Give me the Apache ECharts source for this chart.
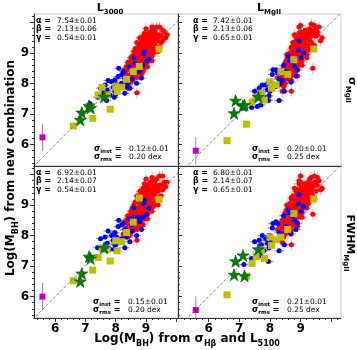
<!DOCTYPE html>
<html><head><meta charset="utf-8">
<script src="https://cdn.jsdelivr.net/npm/echarts@6/dist/echarts.min.js"></script>
<style>html,body{margin:0;padding:0;background:#fff}#c{width:357px;height:350px}</style>
</head><body><div id="c"></div>
<script>
// ---------------- DATA ----------------
const redX = [8.90,8.75,9.05,8.60,9.20,8.85,8.95,8.70,9.10,8.50, 9.30,8.80,9.00,8.65,9.15,8.40,8.95,9.25,8.55,8.85, 9.40,8.70,9.05,8.80,8.45,9.10,8.65,9.00,8.90,9.35, 8.30,8.95,8.75,9.20,8.60,8.85,9.10,8.50,9.50,8.80, 9.00,8.70,8.95,9.15,8.40,9.25,8.60,8.90,9.05,8.75, 9.35,8.55,8.85,9.10,8.65,9.00,8.80,9.20,8.45,8.95, 9.30,8.70,9.45,8.35,8.90,9.15,8.60,9.05,8.85,9.60, 8.50,9.00,8.75,9.25,8.40,8.95,8.65,9.10,8.80,9.40, 8.70,9.55,8.85,9.20,8.55,9.00,8.25,9.65,8.90,9.30,
  8.60,9.00,8.80,9.20,8.50,9.10,8.70,9.30,8.90,8.45, 9.45,8.65,8.95,9.15,8.75,9.05,8.35,9.25,8.85,8.55, 9.35,8.80,9.00,8.60,9.20,8.70,9.50,8.90,9.10,8.40, 9.30,8.75,9.05,8.95,8.50,9.40,8.65,9.25,8.85,9.00, 8.30,9.15,8.70,9.55,8.80,8.95,8.60,9.20,8.45,9.10, 8.85,9.35,8.55,9.00,8.75,9.70,8.90,9.45,8.65,9.05];
const redY_L3000_sig = [8.95,8.70,9.10,8.55,9.30,8.60,9.20,8.90,8.95,8.30, 9.45,8.80,8.85,8.75,9.25,8.20,9.05,9.10,8.65,9.10, 9.50,8.45,9.30,9.00,8.50,9.20,8.40,8.70,8.75,9.20, 8.05,9.35,8.95,9.45,8.80,8.45,9.05,8.60,9.35,8.65, 9.15,8.60,8.90,9.40,8.45,9.00,8.35,9.15,8.80,8.85, 9.55,8.35,8.95,9.35,8.95,9.00,8.50,9.20,8.25,8.65, 9.30,8.75,9.60,8.30,9.00,9.10,8.70,9.15,8.85,9.70, 8.15,9.25,8.55,9.55,7.85,8.50,8.55,8.85,9.15,9.05, 7.70,9.75,9.25,8.90,8.90,9.45,8.00,9.50,8.40,9.65,
  8.90,8.60,9.30,9.65,8.75,9.55,9.10,9.05,9.55,8.65, 9.85,8.25,9.45,9.70,8.35,8.70,8.55,9.35,9.40,8.10, 9.85,8.35,9.60,9.05,8.75,8.20,9.55,9.25,9.65,8.70, 9.75,9.20,8.55,9.65,8.85,9.40,9.15,9.80,8.30,9.35, 8.45,8.95,9.35,9.40,9.50,9.10,8.45,9.85,8.00,9.40, 8.70,9.60,8.55,9.80,9.05,9.60,8.85,9.20,8.65,9.50];
const redY_MgII_sig = [9.00,8.55,9.30,8.40,9.45,8.70,9.15,8.80,9.05,8.20, 9.60,8.90,8.80,8.50,9.40,8.05,9.20,9.25,8.45,9.10, 9.70,8.35,9.50,8.95,8.30,9.10,8.60,8.90,8.65,9.35, 7.95,9.30,9.05,9.55,8.65,8.50,9.20,8.55,9.55,8.75, 9.35,8.25,8.95,9.30,8.25,9.15,8.15,9.40,9.05,8.65, 9.75,8.35,8.85,9.45,8.75,9.10,8.60,9.50,8.10,8.75, 9.40,8.95,9.65,8.10,9.25,9.00,8.85,9.20,9.05,9.85, 8.00,9.40,8.45,9.65,7.75,8.60,8.70,8.95,9.25,8.50, 7.75,9.60,9.10,8.95,8.95,9.55,8.20,9.40,8.25,9.80,
  8.70,8.65,9.35,9.70,8.60,9.60,9.20,9.10,9.45,8.55, 9.90,8.30,9.65,9.75,8.40,8.75,8.35,9.20,9.50,8.30, 9.95,8.50,9.70,8.95,8.85,8.10,9.80,9.30,9.50,8.45, 9.60,8.90,8.60,9.85,8.70,9.25,9.00,9.70,8.40,9.45, 8.40,9.10,9.15,9.70,9.60,9.00,8.55,9.55,7.90,9.40, 8.75,9.55,8.80,9.90,9.35,9.50,9.15,9.25,8.40,9.35];
const redY_L3000_fwhm = [8.92,8.65,9.15,8.50,9.25,8.55,9.10,8.85,8.90,8.25, 9.40,8.75,8.80,8.70,9.30,8.15,9.00,9.05,8.60,9.05, 9.45,8.40,9.35,8.95,8.45,9.20,8.35,8.65,8.70,9.15, 8.00,9.30,8.90,9.50,8.75,8.40,9.00,8.55,9.30,8.60, 9.20,8.55,8.85,9.45,8.40,8.95,8.30,9.15,8.75,8.80, 9.60,8.30,8.90,9.35,8.90,8.95,8.45,9.25,8.20,8.60, 9.35,8.75,9.65,8.25,9.00,9.10,8.65,9.10,8.80,9.75, 8.10,9.30,8.50,9.55,7.95,8.55,8.50,8.85,9.15,9.00, 7.85,9.95,9.25,8.95,8.90,9.45,8.05,9.60,8.35,9.70,
  8.85,8.55,9.30,9.70,8.70,9.55,9.10,9.10,9.55,8.60, 9.95,8.25,9.50,9.75,8.30,8.70,8.50,9.40,9.40,8.15, 9.85,8.40,9.65,9.00,8.80,8.20,9.65,9.30,9.70,8.65, 9.80,9.20,8.55,9.70,8.80,9.50,9.10,9.85,8.35,9.40, 8.45,9.00,9.30,9.50,9.45,9.05,8.45,9.90,8.00,9.45, 8.65,9.60,8.50,9.85,9.10,9.75,8.85,9.25,8.60,9.55];
const redY_MgII_fwhm = [9.05,8.60,9.35,8.35,9.50,8.75,9.20,8.85,9.10,8.15, 9.55,8.80,8.85,8.55,9.30,8.00,9.15,9.20,8.50,9.00, 9.60,8.40,9.40,9.00,8.35,9.25,8.65,8.90,8.70,9.40, 7.90,9.35,8.95,9.50,8.70,8.45,9.15,8.45,9.45,8.65, 9.30,8.30,8.95,9.30,8.25,9.05,8.10,9.45,9.00,8.60, 9.70,8.30,8.90,9.45,8.80,9.10,8.55,9.40,8.05,8.80, 9.35,8.90,9.75,8.10,9.20,9.05,8.80,9.25,8.95,9.80, 8.05,9.35,8.50,9.60,7.80,8.60,8.70,8.90,9.15,8.70, 7.70,9.90,9.20,9.00,9.00,9.55,8.20,9.50,8.30,9.85,
  8.75,8.70,9.30,9.65,8.55,9.65,9.20,9.15,9.50,8.65, 9.95,8.35,9.70,9.70,8.35,8.75,8.40,9.30,9.45,8.25, 9.90,8.40,9.75,8.90,8.90,8.15,9.75,9.35,9.55,8.50, 9.70,9.00,8.60,9.80,8.75,9.30,9.05,9.75,8.45,9.40, 8.35,9.20,9.25,9.65,9.55,9.05,8.50,9.60,7.95,9.35, 8.80,9.50,8.85,9.95,9.30,9.55,9.10,9.20,8.45,9.45];

const blueX = [8.93,9.02,8.63,8.80,8.52,8.30,8.08,7.97,7.86,8.03, 8.19,7.92,7.72,7.59,7.97,7.81,8.30,8.47,8.69,8.85, 8.45,8.25,7.75,7.50,8.95,8.60,8.40,7.95,7.70,7.15, 8.10,8.75,8.55,9.10,8.00,8.35,7.65,8.20,7.40,8.90];
const blueY_L3000_sig = [8.97,8.75,8.67,8.39,8.32,8.18,8.23,8.12,8.06,7.96, 8.01,7.88,7.79,7.70,7.74,7.63,7.68,7.85,8.01,8.18, 8.55,8.40,8.10,7.85,9.05,8.85,8.00,7.55,7.45,7.35, 8.50,8.60,8.15,8.80,7.65,7.90,7.95,8.30,7.55,8.60];
const blueY_MgII_sig = [9.10,8.85,8.75,8.55,8.40,8.15,8.30,8.05,7.95,7.85, 7.90,7.80,7.70,7.25,7.60,7.55,7.45,7.75,8.05,8.25, 8.60,8.35,7.95,7.75,9.40,8.90,8.10,7.45,7.30,7.20, 8.45,8.70,8.25,9.00,7.75,8.00,7.85,8.45,7.22,8.45];
const blueY_L3000_fwhm = [9.05,8.70,8.60,8.45,8.35,8.20,8.30,8.10,8.00,7.95, 7.90,7.85,7.75,7.62,7.70,7.55,7.60,7.80,8.00,8.20, 8.55,8.40,8.15,7.90,9.15,8.90,8.05,7.55,7.50,7.30, 8.50,8.60,8.15,8.90,7.70,7.95,7.95,8.35,7.60,8.60];
const blueY_MgII_fwhm = [9.05,8.80,8.75,8.50,8.30,8.10,8.25,8.00,7.90,7.80, 7.85,7.75,7.70,7.30,7.60,7.50,7.50,7.70,8.05,8.20, 8.65,8.40,8.00,7.80,9.35,8.85,8.05,7.15,7.35,7.05, 8.40,8.65,8.20,8.95,7.70,7.95,7.85,8.45,7.25,8.40];

const yellowX = [6.60,7.24,7.82,7.42,7.72,8.05,8.00,8.20,8.36,8.58,8.78,9.43,7.55];
const yellowY_L3000_sig = [6.61,6.86,7.16,7.63,7.63,7.74,7.90,7.88,8.14,8.39,8.56,9.13,7.88];
const yellowY_MgII_sig = [6.13,6.67,7.46,7.40,7.68,7.85,8.06,7.96,8.39,8.30,8.78,9.13,7.55];
const yellowY_L3000_fwhm = [6.52,6.87,7.17,7.28,7.55,7.50,7.83,7.80,8.10,8.44,9.23,9.18,7.60];
const yellowY_MgII_fwhm = [6.06,6.67,7.25,7.09,7.53,7.68,7.95,7.86,7.95,8.20,8.72,9.20,7.31];

const greenX = [6.83,6.88,7.12,7.17,7.62];
const greenY_L3000_sig = [6.81,7.05,7.27,7.20,7.57];
const greenY_MgII_sig = [7.03,7.44,7.27,7.30,7.57];
const greenY_L3000_fwhm = [6.50,6.76,7.31,7.25,7.60];
const greenY_MgII_fwhm = [6.72,7.16,7.35,6.68,7.55];

const magentaX = [5.58];
const magentaY_L3000_sig = [6.24];
const magentaY_MgII_sig = [5.80];
const magentaY_L3000_fwhm = [6.00];
const magentaY_MgII_fwhm = [5.56];

// typical error bars (dex)
const redErr = [0.13, 0.18];
const blueErr = [0.15, 0.08];
const yellowErr = [0.15, 0.08];
const greenErr = [0.05, 0.05];
const magentaErr = [0.0, 0.45];

const oneToOne = [5.0, 10.5];
const majorTicks = [6, 7, 8, 9, 10];
const tickLabels = [6, 7, 8, 9];
const minorTicks = [5.2,5.4,5.6,5.8,6.2,6.4,6.6,6.8,7.2,7.4,7.6,7.8,8.2,8.4,8.6,8.8,9.2,9.4,9.6,9.8,10.2];

const colTitles = ['3000', 'MgII'];
const rowTitles = [['σ', 'MgII'], ['FWHM', 'MgII']];
const statAlpha = ['7.54±0.01', '7.42±0.01', '6.92±0.01', '6.80±0.01'];
const statBeta  = ['2.13±0.06', '2.13±0.06', '2.14±0.07', '2.14±0.07'];
const statGamma = ['0.54±0.01', '0.65±0.01', '0.54±0.01', '0.65±0.01'];
const statInst  = ['0.12±0.01', '0.20±0.01', '0.15±0.01', '0.21±0.01'];
const statRms   = ['0.20 dex', '0.25 dex', '0.20 dex', '0.25 dex'];

// ---------------- LAYOUT ----------------
const FF = 'DejaVu Sans';
const grids = [
  {left: 34, top: 14, width: 144, height: 152},
  {left: 178, top: 14, width: 163, height: 152},
  {left: 34, top: 166, width: 144, height: 152},
  {left: 178, top: 166, width: 163, height: 152}
];
const xRanges = [[5.3, 10.06], [5.0, 10.32], [5.3, 10.06], [5.0, 10.32]];
const yRange = [5.3, 10.28];

const panelData = [
  [redY_L3000_sig, blueY_L3000_sig, yellowY_L3000_sig, greenY_L3000_sig, magentaY_L3000_sig],
  [redY_MgII_sig, blueY_MgII_sig, yellowY_MgII_sig, greenY_MgII_sig, magentaY_MgII_sig],
  [redY_L3000_fwhm, blueY_L3000_fwhm, yellowY_L3000_fwhm, greenY_L3000_fwhm, magentaY_L3000_fwhm],
  [redY_MgII_fwhm, blueY_MgII_fwhm, yellowY_MgII_fwhm, greenY_MgII_fwhm, magentaY_MgII_fwhm]
];

const STAR = 'path://M12,1 L14.9,8.9 L23.4,8.9 L16.5,13.8 L19.1,21.9 L12,17 L4.9,21.9 L7.5,13.8 L0.6,8.9 L9.1,8.9 Z';

function pts(xs, ys, err) { return xs.map((x, i) => [x, ys[i], err[0], err[1]]); }

function errItem(params, api) {
  const x = api.value(0), y = api.value(1), ex = api.value(2), ey = api.value(3);
  const col = api.visual('color');
  const ch = [];
  if (ex > 0) {
    const a = api.coord([x - ex, y]), b = api.coord([x + ex, y]);
    ch.push({type: 'line', shape: {x1: a[0], y1: a[1], x2: b[0], y2: b[1]}, style: {stroke: col, lineWidth: 1}});
  }
  if (ey > 0) {
    const c = api.coord([x, y - ey]), d = api.coord([x, y + ey]);
    ch.push({type: 'line', shape: {x1: c[0], y1: c[1], x2: d[0], y2: d[1]}, style: {stroke: col, lineWidth: 1}});
  }
  return {type: 'group', children: ch};
}

const xAxis = [], yAxis = [], series = [];
grids.forEach((g, i) => {
  const bottomRow = i >= 2, leftCol = (i % 2 === 0);
  const axLine = {show: true, lineStyle: {color: '#333', width: 1}};
  xAxis.push({
    gridIndex: i, type: 'value', min: xRanges[i][0], max: xRanges[i][1], position: 'bottom',
    axisLine: axLine, splitLine: {show: false},
    axisTick: {show: bottomRow, inside: false, length: 4, customValues: majorTicks, lineStyle: {color: '#333'}},
    axisLabel: {show: bottomRow, customValues: tickLabels, color: '#000', fontFamily: FF, fontWeight: 'bold', fontSize: 12, margin: 5}
  });
  xAxis.push({
    gridIndex: i, type: 'value', min: xRanges[i][0], max: xRanges[i][1], position: 'bottom',
    axisLine: {show: false}, splitLine: {show: false},
    axisTick: {show: bottomRow, inside: false, length: 2, customValues: minorTicks, lineStyle: {color: '#333'}},
    axisLabel: {show: false}
  });
  yAxis.push({
    gridIndex: i, type: 'value', min: yRange[0], max: yRange[1], position: 'left',
    axisLine: axLine, splitLine: {show: false},
    axisTick: {show: true, inside: !leftCol, length: 4, customValues: majorTicks, lineStyle: {color: '#333'}},
    axisLabel: {show: leftCol, customValues: tickLabels, color: '#000', fontFamily: FF, fontWeight: 'bold', fontSize: 12, margin: 5}
  });
  yAxis.push({
    gridIndex: i, type: 'value', min: yRange[0], max: yRange[1], position: 'left',
    axisLine: {show: false}, splitLine: {show: false},
    axisTick: {show: true, inside: !leftCol, length: 2, customValues: minorTicks, lineStyle: {color: '#333'}},
    axisLabel: {show: false}
  });
  const xi = i * 2, yi = i * 2;
  const d = panelData[i];
  series.push({type: 'line', xAxisIndex: xi, yAxisIndex: yi, data: oneToOne.map(v => [v, v]), symbol: 'none', silent: true,
    lineStyle: {color: '#666', width: 0.8, type: [3, 2]}, clip: true, animation: false});
  series.push({type: 'custom', xAxisIndex: xi, yAxisIndex: yi, renderItem: errItem, data: pts(redX, d[0], redErr),
    itemStyle: {color: 'rgba(255,60,60,0.45)'}, clip: true, animation: false});
  series.push({type: 'scatter', xAxisIndex: xi, yAxisIndex: yi, data: pts(redX, d[0], redErr), symbol: 'circle', symbolSize: 5,
    itemStyle: {color: '#ff0000', opacity: 1}, animation: false});
  series.push({type: 'custom', xAxisIndex: xi, yAxisIndex: yi, renderItem: errItem, data: pts(blueX, d[1], blueErr),
    itemStyle: {color: 'rgba(0,0,255,0.5)'}, clip: true, animation: false});
  series.push({type: 'scatter', xAxisIndex: xi, yAxisIndex: yi, data: pts(blueX, d[1], blueErr), symbol: 'circle', symbolSize: 5,
    itemStyle: {color: '#0000ff', opacity: 1}, animation: false});
  series.push({type: 'custom', xAxisIndex: xi, yAxisIndex: yi, renderItem: errItem, data: pts(yellowX, d[2], yellowErr),
    itemStyle: {color: 'rgba(191,191,0,0.5)'}, clip: true, animation: false});
  series.push({type: 'scatter', xAxisIndex: xi, yAxisIndex: yi, data: pts(yellowX, d[2], yellowErr), symbol: 'rect', symbolSize: 7,
    itemStyle: {color: '#bfbf00', opacity: 1}, animation: false});
  series.push({type: 'scatter', xAxisIndex: xi, yAxisIndex: yi, data: pts(greenX, d[3], greenErr), symbol: STAR, symbolSize: 12,
    itemStyle: {color: '#008000', borderColor: '#004d00', borderWidth: 0.6, opacity: 1}, animation: false});
  series.push({type: 'custom', xAxisIndex: xi, yAxisIndex: yi, renderItem: errItem, data: pts(magentaX, d[4], magentaErr),
    itemStyle: {color: '#e060e0'}, clip: true, animation: false});
  series.push({type: 'scatter', xAxisIndex: xi, yAxisIndex: yi, data: pts(magentaX, d[4], magentaErr), symbol: 'rect', symbolSize: 6,
    itemStyle: {color: '#bf00bf', opacity: 1}, animation: false});
});

// ---------------- TEXT ----------------
const bigRich = {
  b: {fontFamily: FF, fontWeight: 'bold', fontSize: 12, verticalAlign: 'middle', lineHeight: 17, fill: '#000'},
  s: {fontFamily: FF, fontWeight: 'bold', fontSize: 8, verticalAlign: 'bottom', lineHeight: 9, fill: '#000'}
};
const titleRich = {
  b: {fontFamily: FF, fontWeight: 'bold', fontSize: 11, verticalAlign: 'middle', lineHeight: 15, fill: '#000'},
  s: {fontFamily: FF, fontWeight: 'bold', fontSize: 7, verticalAlign: 'bottom', lineHeight: 8, fill: '#000'}
};
const statRich = {
  g: {fontFamily: FF, fontWeight: 'bold', fontSize: 8, verticalAlign: 'middle', lineHeight: 11, fill: '#000'},
  gs: {fontFamily: FF, fontWeight: 'bold', fontSize: 5.5, verticalAlign: 'bottom', lineHeight: 6, fill: '#000'},
  v: {fontFamily: FF, fontSize: 7.5, verticalAlign: 'middle', lineHeight: 11, fill: '#000'}
};
function txt(x, y, text, rich, align, rot) {
  return {type: 'text', x: x, y: y, rotation: rot || 0, z: 100, silent: true,
    style: {text: text, rich: rich, align: align || 'left', verticalAlign: 'middle'}};
}
const graphics = [];
graphics.push(txt(110, 8, '{b|L}{s|' + colTitles[0] + '}', titleRich, 'center'));
graphics.push(txt(269, 8, '{b|L}{s|' + colTitles[1] + '}', titleRich, 'center'));
graphics.push(txt(352, 90, '{b|' + rowTitles[0][0] + '}{s|' + rowTitles[0][1] + '}', titleRich, 'center', -Math.PI / 2));
graphics.push(txt(350, 243, '{b|' + rowTitles[1][0] + '}{s|' + rowTitles[1][1] + '}', titleRich, 'center', -Math.PI / 2));
graphics.push(txt(11, 168, '{b|Log(M}{s|BH}{b|) from new combination}', bigRich, 'center', Math.PI / 2));
graphics.push(txt(187, 339, '{b|Log(M}{s|BH}{b|) from σ}{s|Hβ}{b| and L}{s|5100}', bigRich, 'center'));

const statPos = [
  {gx: 36, vx: 57, ty: 21, sx: 94, svx: 129, sy: 149},
  {gx: 193, vx: 213, ty: 21, sx: 252, svx: 287, sy: 149},
  {gx: 36, vx: 57, ty: 173, sx: 93, svx: 128, sy: 302},
  {gx: 193, vx: 213, ty: 173, sx: 252, svx: 287, sy: 302}
];
statPos.forEach((p, i) => {
  graphics.push(txt(p.gx, p.ty, '{g|α =}', statRich));
  graphics.push(txt(p.vx, p.ty, '{v|' + statAlpha[i] + '}', statRich));
  graphics.push(txt(p.gx, p.ty + 8.3, '{g|β =}', statRich));
  graphics.push(txt(p.vx, p.ty + 8.3, '{v|' + statBeta[i] + '}', statRich));
  graphics.push(txt(p.gx, p.ty + 16.6, '{g|γ =}', statRich));
  graphics.push(txt(p.vx, p.ty + 16.6, '{v|' + statGamma[i] + '}', statRich));
  graphics.push(txt(p.sx, p.sy, '{g|σ}{gs|inst}{g| =}', statRich));
  graphics.push(txt(p.svx, p.sy, '{v|' + statInst[i] + '}', statRich));
  graphics.push(txt(p.sx, p.sy + 8, '{g|σ}{gs|rms}{g| =}', statRich));
  graphics.push(txt(p.svx, p.sy + 8, '{v|' + statRms[i] + '}', statRich));
});

const chart = echarts.init(document.getElementById('c'), null, {renderer: 'canvas'});
chart.setOption({
  animation: false,
  backgroundColor: '#fff',
  grid: grids.map(g => Object.assign({show: true, borderColor: '#c8c8c8', borderWidth: 1, backgroundColor: 'transparent'}, g)),
  xAxis: xAxis, yAxis: yAxis, series: series, graphic: graphics
});
</script></body></html>
